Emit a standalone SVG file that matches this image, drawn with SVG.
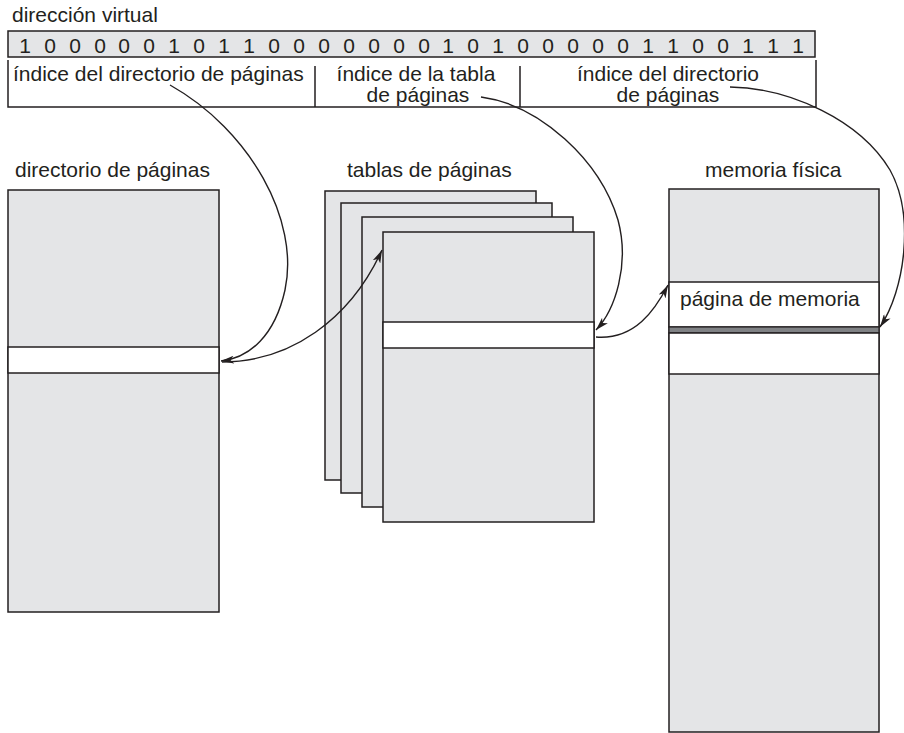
<svg xmlns="http://www.w3.org/2000/svg" width="904" height="733" viewBox="0 0 904 733">
<defs>
<style>
text{font-family:"Liberation Sans",Arial,sans-serif;font-size:21px;fill:#231f20}
.g{fill:#e4e5e7;stroke:#231f20;stroke-width:1.5}
.w{fill:#ffffff;stroke:#231f20;stroke-width:1.5}
.ln{fill:none;stroke:#231f20;stroke-width:1.5}
.c{fill:none;stroke:#231f20;stroke-width:1.4;marker-end:url(#ah)}
.d text{text-anchor:middle}
.m{text-anchor:middle}
</style>
<marker id="ah" viewBox="0 0 13 8" refX="13" refY="4" markerWidth="13" markerHeight="8" markerUnits="userSpaceOnUse" orient="auto">
<path d="M0,0 L13,4 L0,8 L3.5,4 z" fill="#231f20"/>
</marker>
</defs>
<rect width="904" height="733" fill="#ffffff"/>

<g id="virtual-address">
<text x="12" y="22">dirección virtual</text>
<rect class="g" x="8" y="31" width="807" height="26"/>
<g class="d">
<text x="25" y="52.5">1</text><text x="50" y="52.5">0</text><text x="75" y="52.5">0</text><text x="100" y="52.5">0</text>
<text x="124" y="52.5">0</text><text x="149" y="52.5">0</text><text x="174" y="52.5">1</text><text x="199" y="52.5">0</text>
<text x="224" y="52.5">1</text><text x="249" y="52.5">1</text><text x="274" y="52.5">0</text><text x="299" y="52.5">0</text>
<text x="324" y="52.5">0</text><text x="349" y="52.5">0</text><text x="374" y="52.5">0</text><text x="399" y="52.5">0</text>
<text x="424" y="52.5">0</text><text x="448" y="52.5">1</text><text x="473" y="52.5">0</text><text x="498" y="52.5">1</text>
<text x="523" y="52.5">0</text><text x="548" y="52.5">0</text><text x="573" y="52.5">0</text><text x="598" y="52.5">0</text>
<text x="623" y="52.5">0</text><text x="648" y="52.5">1</text><text x="673" y="52.5">1</text><text x="698" y="52.5">0</text>
<text x="723" y="52.5">0</text><text x="748" y="52.5">1</text><text x="773" y="52.5">1</text><text x="798" y="52.5">1</text>
</g>
</g>

<g id="address-fields">
<path class="ln" d="M8,60 V107 H816 V60 M315,66 V107 M520,66 V107"/>
<text x="13" y="81">índice del directorio de páginas</text>
<text class="m" x="416" y="81">índice de la tabla</text>
<text class="m" x="418" y="102">de páginas</text>
<text class="m" x="668" y="81">índice del directorio</text>
<text class="m" x="668" y="102">de páginas</text>
</g>

<g id="page-directory">
<text x="15" y="177">directorio de páginas</text>
<rect class="g" x="8" y="190" width="211" height="422"/>
<rect class="w" x="8" y="347" width="211" height="26"/>
</g>

<g id="page-tables">
<text x="347" y="177">tablas de páginas</text>
<rect class="g" x="325" y="191" width="211" height="289"/>
<rect class="g" x="341" y="203" width="211" height="290"/>
<rect class="g" x="362" y="217" width="211" height="290"/>
<rect class="g" x="383" y="232" width="211" height="290"/>
<rect class="w" x="383" y="322" width="211" height="26"/>
</g>

<g id="physical-memory">
<text x="705" y="177">memoria física</text>
<rect class="g" x="669" y="189" width="210" height="543"/>
<rect class="w" x="669" y="282" width="210" height="45"/>
<rect x="669" y="327" width="210" height="6" fill="#808285" stroke="#231f20" stroke-width="1.2"/>
<rect class="w" x="669" y="333" width="210" height="41"/>
<text x="680" y="306">página de memoria</text>
</g>

<g id="connectors">
<path class="c" d="M170,85 C250,130 300,220 285,290 C275,335 250,358 221,361"/>
<path class="c" d="M222,362 C290,362 350,320 382,250"/>
<path class="c" d="M481,97 C540,105 600,160 618,220 C630,265 615,310 596,330"/>
<path class="c" d="M596,337 C635,340 655,310 668,285"/>
<path class="c" d="M730,87 C790,88 860,120 890,170 C915,215 905,290 880,327"/>
</g>
</svg>
